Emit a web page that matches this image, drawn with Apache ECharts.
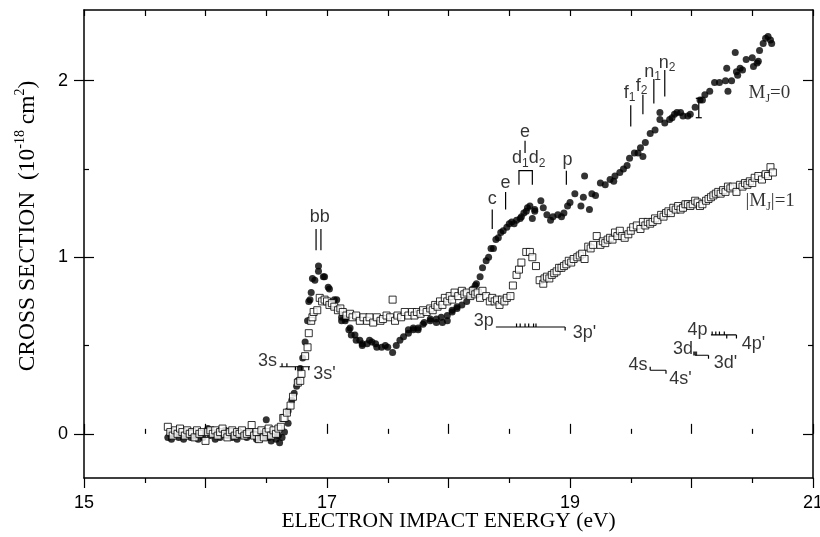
<!DOCTYPE html>
<html>
<head>
<meta charset="utf-8">
<script src="https://cdn.jsdelivr.net/npm/echarts@6/dist/echarts.min.js"></script>
<style>
  html, body { margin: 0; padding: 0; background: #fff; }
  #chart { width: 820px; height: 537px; }
</style>
</head>
<body>
<div id="chart"></div>
<script>
// ---- axis tick values ----
var xLabelValues = [15, 17, 19, 21];
var yLabelValues = [0, 1, 2];
var yMinorValues = [0.5, 1.5];

// ---- M_J = 0 (filled circles), [energy eV, cross section] ----
var mj0Points = [
  [15.69,-0.02],[15.71,0.00],[15.72,-0.03],[15.74,-0.01],[15.76,0.01],[15.78,-0.02],[15.80,0.00],[15.82,-0.03],
  [15.84,-0.01],[15.86,0.01],[15.88,-0.02],[15.90,0.01],[15.92,-0.01],[15.94,-0.03],[15.96,0.00],[15.98,-0.02],
  [16.00,0.01],[16.02,0.03],[16.04,-0.01],[16.06,0.00],[16.08,-0.03],[16.10,0.01],[16.12,-0.02],[16.14,0.00],
  [16.16,0.02],[16.18,-0.01],[16.20,0.01],[16.22,-0.02],[16.24,0.00],[16.26,-0.03],[16.28,0.01],[16.30,-0.01],
  [16.32,0.00],[16.34,-0.02],[16.36,0.01],[16.38,-0.01],[16.40,0.00],[16.42,-0.03],[16.44,-0.01],[16.46,0.00],
  [16.48,-0.02],[16.50,0.08],[16.52,-0.02],[16.54,-0.04],[16.56,0.00],[16.58,-0.03],[16.60,-0.01],[16.61,-0.05],
  [16.63,-0.02],[16.65,0.01],
  [16.68,0.06],[16.68,0.13],[16.71,0.19],[16.73,0.23],[16.75,0.27],[16.76,0.30],[16.78,0.37],[16.80,0.43],
  [16.82,0.52],[16.84,0.64],[16.85,0.75],[16.86,0.76],[16.87,0.80],[16.88,0.88],[16.90,0.87],[16.93,0.95],
  [16.93,0.92],[16.97,0.89],[16.98,0.89],[17.01,0.83],[17.02,0.82],[17.06,0.76],[17.08,0.76],[17.09,0.71],
  [17.12,0.66],[17.12,0.64],[17.15,0.65],[17.15,0.64],[17.18,0.59],[17.19,0.60],[17.20,0.56],[17.23,0.56],
  [17.24,0.53],[17.27,0.53],[17.29,0.51],[17.29,0.50],[17.33,0.51],[17.35,0.53],[17.37,0.52],[17.40,0.51],
  [17.41,0.49],[17.45,0.49],[17.48,0.50],[17.50,0.49],[17.54,0.46],[17.57,0.50],[17.60,0.53],[17.63,0.55],
  [17.67,0.57],[17.67,0.59],[17.71,0.59],[17.71,0.60],[17.75,0.60],[17.75,0.59],[17.79,0.62],[17.80,0.63],
  [17.85,0.64],[17.85,0.65],[17.90,0.65],[17.90,0.63],[17.94,0.66],[17.95,0.63],[17.99,0.67],[17.99,0.64],
  [18.03,0.69],[18.03,0.70],[18.07,0.72],[18.07,0.71],[18.11,0.73],[18.15,0.75],[18.18,0.78],[18.20,0.82],
  [18.22,0.84],[18.23,0.85],[18.26,0.89],[18.28,0.94],[18.31,0.98],[18.33,1.00],[18.35,1.05],[18.37,1.05],
  [18.39,1.10],[18.41,1.11],[18.43,1.14],[18.45,1.15],[18.48,1.17],[18.50,1.19],[18.52,1.20],[18.54,1.19],
  [18.56,1.21],[18.59,1.22],[18.60,1.23],[18.62,1.25],[18.64,1.26],[18.65,1.28],[18.67,1.29],[18.69,1.22],
  [18.71,1.27],[18.71,1.26],[18.76,1.32],[18.78,1.28],[18.81,1.24],[18.84,1.21],[18.86,1.23],[18.90,1.24],
  [18.93,1.23],[18.95,1.25],[18.98,1.29],[19.00,1.31],[19.04,1.36],[19.09,1.29],[19.11,1.34],[19.12,1.46],
  [19.16,1.27],[19.18,1.36],[19.21,1.35],[19.25,1.42],[19.29,1.41],[19.33,1.44],[19.36,1.43],[19.37,1.46],
  [19.41,1.48],[19.44,1.50],[19.47,1.52],[19.49,1.56],[19.53,1.59],[19.56,1.59],[19.58,1.62],[19.60,1.57],
  [19.62,1.65],[19.66,1.70],[19.70,1.72],[19.74,1.82],[19.74,1.78],[19.78,1.76],[19.82,1.78],[19.84,1.79],
  [19.86,1.81],[19.88,1.82],[19.91,1.82],[19.93,1.80],[19.97,1.80],[19.99,1.81],[20.03,1.85],[20.07,1.89],
  [20.09,1.89],[20.11,1.92],[20.15,1.94],[20.19,1.99],[20.23,1.99],[20.28,2.00],[20.29,2.07],[20.30,1.94],
  [20.33,2.00],[20.36,2.16],[20.37,2.05],[20.38,2.03],[20.40,2.07],[20.42,2.06],[20.45,2.12],[20.50,2.13],
  [20.51,2.08],[20.54,2.10],[20.55,2.11],[20.56,2.17],[20.59,2.21],[20.61,2.24],[20.63,2.25],[20.65,2.23],
  [20.66,2.21]
];

// ---- |M_J| = 1 (open squares) ----
var mj1Points = [
  [15.69,0.04],[15.71,0.01],[15.73,-0.01],[15.75,0.02],[15.77,0.00],[15.79,0.03],[15.81,0.01],[15.83,-0.01],
  [15.85,0.02],[15.87,0.00],[15.89,0.01],[15.91,-0.02],[15.93,0.02],[15.95,0.00],[15.97,0.01],[16.00,-0.04],
  [16.02,0.01],[16.04,0.02],[16.06,0.00],[16.08,0.02],[16.10,-0.01],[16.12,0.01],[16.14,0.03],[16.16,0.00],
  [16.18,-0.02],[16.20,0.01],[16.22,0.02],[16.24,-0.01],[16.26,0.01],[16.28,0.00],[16.30,0.02],[16.32,-0.01],
  [16.34,0.00],[16.36,0.01],[16.38,0.05],[16.40,-0.01],[16.42,0.01],[16.44,-0.03],[16.46,0.02],[16.48,-0.02],
  [16.50,0.01],[16.52,0.03],[16.54,-0.01],[16.56,0.02],[16.58,0.00],[16.60,0.03],[16.62,0.04],
  [16.64,0.09],[16.65,0.09],[16.67,0.12],[16.70,0.16],[16.72,0.21],[16.76,0.29],[16.78,0.30],[16.79,0.34],
  [16.82,0.44],[16.84,0.49],[16.85,0.57],[16.87,0.64],[16.88,0.66],[16.89,0.69],[16.92,0.70],[16.94,0.77],
  [16.96,0.75],[16.98,0.76],[17.00,0.75],[17.02,0.73],[17.04,0.74],[17.06,0.72],[17.09,0.70],[17.11,0.71],
  [17.13,0.69],[17.16,0.67],[17.19,0.68],[17.21,0.66],[17.24,0.67],[17.27,0.64],[17.30,0.66],[17.33,0.64],
  [17.35,0.66],[17.38,0.63],[17.41,0.66],[17.44,0.64],[17.46,0.65],[17.49,0.67],[17.52,0.66],[17.54,0.76],
  [17.56,0.64],[17.58,0.67],[17.61,0.66],[17.64,0.69],[17.67,0.67],[17.70,0.69],[17.72,0.67],[17.74,0.69],
  [17.77,0.68],[17.79,0.70],[17.82,0.69],[17.85,0.71],[17.87,0.70],[17.89,0.73],[17.91,0.72],[17.93,0.75],
  [17.95,0.73],[17.97,0.77],[17.99,0.75],[18.01,0.78],[18.03,0.76],[18.05,0.80],[18.08,0.78],[18.11,0.81],
  [18.13,0.79],[18.15,0.80],[18.18,0.78],[18.20,0.81],[18.22,0.79],[18.24,0.80],[18.26,0.77],[18.28,0.81],
  [18.31,0.78],[18.34,0.75],[18.36,0.77],[18.38,0.75],[18.40,0.76],[18.42,0.73],[18.44,0.76],[18.46,0.75],
  [18.48,0.77],[18.51,0.78],
  [18.53,0.84],[18.56,0.90],[18.58,0.93],[18.60,0.97],[18.64,1.03],[18.67,1.03],[18.69,1.00],[18.72,0.95],
  [18.75,0.87],[18.78,0.85],[18.79,0.88],[18.81,0.89],[18.83,0.88],[18.85,0.90],[18.87,0.91],[18.89,0.92],
  [18.91,0.94],[18.93,0.94],[18.95,0.95],[18.97,0.96],[18.99,0.98],[19.01,0.97],[19.03,0.99],[19.06,1.00],
  [19.08,1.01],[19.10,1.02],[19.12,0.99],[19.15,1.06],[19.17,1.05],[19.19,1.07],[19.22,1.12],[19.25,1.07],
  [19.27,1.09],[19.29,1.08],[19.31,1.10],[19.33,1.11],[19.35,1.10],[19.37,1.14],[19.39,1.12],[19.41,1.15],
  [19.43,1.12],[19.45,1.11],[19.48,1.13],[19.50,1.15],[19.52,1.17],[19.55,1.18],[19.58,1.16],[19.60,1.20],
  [19.62,1.18],[19.64,1.20],[19.66,1.19],[19.68,1.20],[19.70,1.22],[19.72,1.21],[19.75,1.24],[19.77,1.23],
  [19.79,1.25],[19.81,1.26],[19.83,1.25],[19.85,1.28],[19.87,1.27],[19.89,1.29],[19.91,1.27],[19.93,1.28],
  [19.95,1.30],[19.97,1.30],[19.99,1.29],[20.01,1.30],[20.03,1.32],[20.05,1.31],[20.07,1.29],[20.09,1.30],
  [20.12,1.32],[20.14,1.33],[20.16,1.34],[20.18,1.35],[20.20,1.36],[20.22,1.37],[20.24,1.36],[20.26,1.38],
  [20.28,1.37],[20.30,1.40],[20.32,1.39],[20.34,1.40],[20.37,1.37],[20.40,1.41],[20.42,1.40],[20.44,1.42],
  [20.46,1.41],[20.48,1.43],[20.50,1.42],[20.52,1.45],[20.55,1.46],[20.58,1.44],[20.61,1.47],[20.63,1.46],
  [20.65,1.51],[20.67,1.48]
];

// ---- labels on the plot: [energy, cross section, text] ----
var noteLabels = [
  [16.94, 1.23, 'bb'],
  [16.51, 0.41, '3s'],
  [16.98, 0.34, "3s'"],
  [18.29, 0.64, '3p'],
  [19.12, 0.57, "3p'"],
  [19.56, 0.39, '4s'],
  [19.91, 0.31, "4s'"],
  [19.93, 0.48, '3d'],
  [20.28, 0.40, "3d'"],
  [20.05, 0.59, '4p'],
  [20.51, 0.51, "4p'"],
  [18.36, 1.33, 'c'],
  [18.47, 1.42, 'e'],
  [18.63, 1.71, 'e'],
  [18.66, 1.56, 'd{s|1}d{s|2}'],
  [18.98, 1.55, 'p'],
  [19.49, 1.93, 'f{s|1}'],
  [19.59, 1.97, 'f{s|2}'],
  [19.68, 2.05, 'n{s|1}'],
  [19.80, 2.10, 'n{s|2}']
];
var seriesNames = [
  [20.465, 1.93, 'M{s|J}=0'],
  [20.44, 1.32, '|M{s|J}|=1']
];

// marker lines for the levels (data coordinates)
var noteSegments = [
  [[16.91, 1.04], [16.91, 1.16]], [[16.95, 1.04], [16.95, 1.16]],
  [[18.36, 1.16], [18.36, 1.27]],
  [[18.47, 1.27], [18.47, 1.37]],
  [[18.58, 1.41], [18.58, 1.49], [18.69, 1.49], [18.69, 1.41]],
  [[18.63, 1.59], [18.63, 1.66]],
  [[18.97, 1.41], [18.97, 1.49]],
  [[19.50, 1.74], [19.50, 1.86]],
  [[19.60, 1.81], [19.60, 1.92]],
  [[19.69, 1.87], [19.69, 2.01]],
  [[19.78, 1.91], [19.78, 2.06]],
  // 3s - 3s'
  [[16.61, 0.38], [16.86, 0.38]],
  [[16.63, 0.38], [16.63, 0.40]], [[16.67, 0.38], [16.67, 0.40]],
  [[16.74, 0.38], [16.74, 0.36]], [[16.79, 0.38], [16.79, 0.36]], [[16.85, 0.38], [16.85, 0.36]],
  // 3p - 3p'
  [[18.39, 0.605], [18.96, 0.605]],
  [[18.56, 0.605], [18.56, 0.625]], [[18.59, 0.605], [18.59, 0.625]], [[18.63, 0.605], [18.63, 0.625]],
  [[18.66, 0.605], [18.66, 0.625]], [[18.70, 0.605], [18.70, 0.625]], [[18.72, 0.605], [18.72, 0.625]],
  [[18.96, 0.605], [18.96, 0.585]],
  // 4s - 4s'
  [[19.66, 0.36], [19.79, 0.36]],
  [[19.66, 0.36], [19.66, 0.38]], [[19.79, 0.36], [19.79, 0.34]],
  // 3d - 3d'
  [[20.03, 0.445], [20.14, 0.445]], [[20.14, 0.445], [20.14, 0.425]],
  // 4p - 4p'
  [[20.16, 0.56], [20.37, 0.56]],
  [[20.17, 0.56], [20.17, 0.58]], [[20.20, 0.56], [20.20, 0.58]], [[20.23, 0.56], [20.23, 0.58]],
  [[20.27, 0.56], [20.27, 0.58]], [[20.29, 0.56], [20.29, 0.54]], [[20.37, 0.56], [20.37, 0.54]]
];
var levelDots = [[20.03, 0.455]];
// [energy, low, high]
var errorBars = [[20.06, 1.79, 1.90]];

var dom = document.getElementById('chart');
var myChart = echarts.init(dom, null, { renderer: 'canvas' });

var sans = 'Liberation Sans, Arial, sans-serif';
var serif = 'Liberation Serif, Times New Roman, serif';

function xAxisBase(extra) {
  var a = {
    type: 'value', min: 15, max: 21, interval: 1,
    axisLine: { show: true, onZero: false, lineStyle: { color: '#000', width: 1.5 } },
    axisTick: { show: true, length: 10, lineStyle: { color: '#000', width: 1.2 } },
    minorTick: { show: true, splitNumber: 2, length: 5, lineStyle: { color: '#000', width: 1.2 } },
    axisLabel: { show: false },
    splitLine: { show: false },
    minorSplitLine: { show: false }
  };
  return Object.assign(a, extra);
}

function yAxisBase(extra) {
  var a = {
    type: 'value', min: -0.25, max: 2.4,
    axisLine: { show: false, onZero: false, lineStyle: { color: '#000', width: 1.5 } },
    axisLabel: { show: false },
    splitLine: { show: false }
  };
  return Object.assign(a, extra);
}

var subStyle = { fontSize: 12, lineHeight: 10, verticalAlign: 'bottom', fontFamily: sans, color: '#000' };

var option = {
  backgroundColor: '#fff',
  animation: false,
  grid: { left: 84, right: 7, top: 10, bottom: 59, containLabel: false, outerBoundsMode: 'none' },
  xAxis: [
    xAxisBase({
      position: 'bottom',
      axisTick: { show: true, inside: false, length: 10, lineStyle: { color: '#000', width: 1.2 } },
      axisLabel: { show: true, customValues: xLabelValues, margin: 16, fontSize: 18, fontFamily: sans, color: '#000' },
      name: 'ELECTRON IMPACT ENERGY (eV)',
      nameLocation: 'middle', nameGap: 32, nameMoveOverlap: false,
      nameTextStyle: { fontFamily: serif, fontSize: 21.5, color: '#000' }
    }),
    xAxisBase({
      position: 'bottom',
      axisLine: { show: false },
      axisTick: { show: true, inside: true, length: 10, lineStyle: { color: '#000', width: 1.2 } }
    }),
    xAxisBase({
      position: 'top', interval: 0.5,
      axisTick: { show: true, inside: true, length: 6, lineStyle: { color: '#000', width: 1.2 } },
      minorTick: { show: false }
    })
  ],
  yAxis: [
    yAxisBase({
      position: 'left',
      axisLine: { show: true, onZero: false, lineStyle: { color: '#000', width: 1.5 } },
      axisTick: { show: true, inside: false, length: 10, customValues: yLabelValues, lineStyle: { color: '#000', width: 1.2 } },
      axisLabel: { show: true, customValues: yLabelValues, margin: 16, fontSize: 18, fontFamily: sans, color: '#000' },
      name: '{t|CROSS SECTION  (10}{sup|-18}{t| cm}{sup|2}{t|)}',
      nameLocation: 'middle', nameRotate: 90, nameGap: 41, nameMoveOverlap: false,
      nameTextStyle: {
        fontFamily: serif, fontSize: 23.5, color: '#000', padding: [0, 0, 0, 36],
        rich: {
          t: { fontFamily: serif, fontSize: 23.5, lineHeight: 30, color: '#000' },
          sup: { fontFamily: serif, fontSize: 14, lineHeight: 15, verticalAlign: 'top', color: '#000' }
        }
      }
    }),
    yAxisBase({
      position: 'left',
      axisTick: { show: true, inside: true, length: 10, customValues: yLabelValues, lineStyle: { color: '#000', width: 1.2 } }
    }),
    yAxisBase({
      position: 'left',
      axisTick: { show: true, inside: true, length: 5, customValues: yMinorValues, lineStyle: { color: '#000', width: 1.2 } }
    }),
    yAxisBase({
      position: 'right',
      axisLine: { show: true, onZero: false, lineStyle: { color: '#000', width: 1.5 } },
      axisTick: { show: true, inside: true, length: 10, customValues: yLabelValues, lineStyle: { color: '#000', width: 1.2 } }
    }),
    yAxisBase({
      position: 'right',
      axisTick: { show: true, inside: true, length: 5, customValues: yMinorValues, lineStyle: { color: '#000', width: 1.2 } }
    })
  ],
  series: [
    {
      name: 'M_J=0', type: 'scatter', data: mj0Points,
      symbol: 'circle', symbolSize: 7,
      itemStyle: { color: '#000' }, z: 2, silent: true
    },
    {
      name: '|M_J|=1', type: 'scatter', data: mj1Points,
      symbol: 'rect', symbolSize: 7,
      itemStyle: { color: '#fff', borderColor: '#000', borderWidth: 1 }, z: 3, silent: true
    },
    {
      type: 'lines', coordinateSystem: 'cartesian2d', polyline: true, silent: true, z: 4,
      data: noteSegments.map(function (s) { return { coords: s }; }),
      lineStyle: { color: '#000', width: 1.2, opacity: 1 }
    },
    {
      type: 'scatter', data: levelDots, symbol: 'rect', symbolSize: 4,
      itemStyle: { color: '#000' }, z: 4, silent: true
    },
    {
      type: 'custom', data: errorBars, z: 4, silent: true,
      encode: { x: 0, y: [1, 2] },
      renderItem: function (params, api) {
        var top = api.coord([api.value(0), api.value(2)]);
        var bot = api.coord([api.value(0), api.value(1)]);
        var st = { stroke: '#000', lineWidth: 1.2 };
        return {
          type: 'group',
          children: [
            { type: 'line', shape: { x1: top[0], y1: top[1], x2: bot[0], y2: bot[1] }, style: st },
            { type: 'line', shape: { x1: top[0] - 3, y1: top[1], x2: top[0] + 3, y2: top[1] }, style: st },
            { type: 'line', shape: { x1: bot[0] - 3, y1: bot[1], x2: bot[0] + 3, y2: bot[1] }, style: st }
          ]
        };
      }
    },
    {
      type: 'scatter', z: 5, silent: true, symbolSize: 1,
      itemStyle: { color: 'rgba(0,0,0,0)' },
      data: noteLabels.map(function (n) { return { value: [n[0], n[1]], name: n[2] }; }),
      label: {
        show: true, position: 'inside', formatter: function (p) { return p.name; },
        fontFamily: sans, fontSize: 18, lineHeight: 22, color: '#000',
        rich: { s: subStyle }
      }
    },
    {
      type: 'scatter', z: 5, silent: true, symbolSize: 1,
      itemStyle: { color: 'rgba(0,0,0,0)' },
      data: seriesNames.map(function (n) { return { value: [n[0], n[1]], name: n[2] }; }),
      label: {
        show: true, position: 'right', distance: 0, formatter: function (p) { return p.name; },
        fontFamily: serif, fontSize: 19, lineHeight: 24, color: '#000',
        rich: { s: { fontFamily: serif, fontSize: 12, lineHeight: 10, verticalAlign: 'bottom', color: '#000' } }
      }
    }
  ]
};

myChart.setOption(option);
</script>
</body>
</html>
